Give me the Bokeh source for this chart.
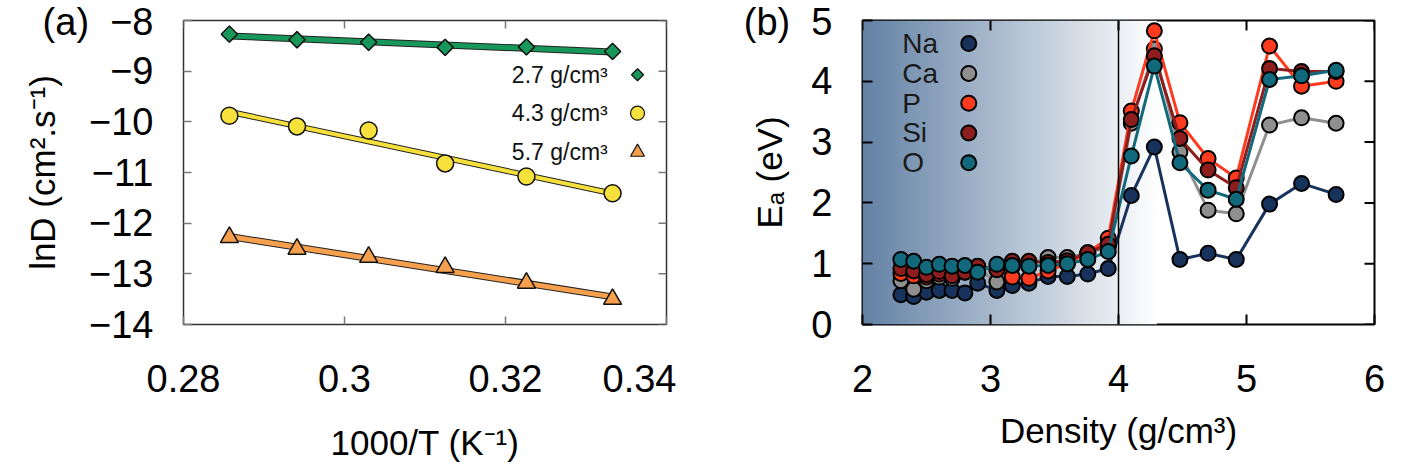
import numpy as np
from bokeh.plotting import figure
from bokeh.layouts import row
from bokeh.models import FixedTicker, Span, Range1d
from bokeh.core.properties import value
from bokeh.embed import file_html
from bokeh.resources import INLINE

FONT = "Liberation Sans"
NB = "\u00a0\u00a0"

# ---------------- Panel (a) data ----------------
inv_T = [0.2857, 0.2941, 0.3030, 0.3125, 0.3226, 0.3333]
lnD_27 = [-8.27, -8.38, -8.43, -8.53, -8.52, -8.61]
lnD_43 = [-9.88, -10.09, -10.17, -10.82, -11.08, -11.41]
lnD_57 = [-12.28, -12.51, -12.67, -12.87, -13.18, -13.50]
a_labels = ["2.7 g/cm³", "4.3 g/cm³", "5.7 g/cm³"]
a_xticks = [0.28, 0.30, 0.32, 0.34]
a_xtick_labels = ["0.28", "0.3", "0.32", "0.34"]
a_yticks = [-14, -13, -12, -11, -10, -9, -8]
a_ytick_labels = ["−14", "−13", "−12", "−11", "−10", "−9", "(a)" + NB + "−8"]

# ---------------- Panel (b) data ----------------
density = [2.3, 2.4, 2.5, 2.6, 2.7, 2.8, 2.9, 3.05, 3.17, 3.3, 3.45, 3.6, 3.76, 3.92,
           4.1, 4.28, 4.48, 4.7, 4.92, 5.18, 5.43, 5.7]
Ea_Na = [0.49, 0.46, 0.53, 0.56, 0.56, 0.52, 0.68, 0.56, 0.64, 0.68, 0.79, 0.79, 0.83, 0.92,
         2.12, 2.92, 1.07, 1.17, 1.07, 1.98, 2.32, 2.14]
Ea_Ca = [0.72, 0.58, 0.72, 0.78, 0.76, 0.86, 0.92, 0.70, 0.95, 1.00, 1.10, 1.10, 1.17, 1.28,
         3.31, 4.53, 2.84, 1.88, 1.82, 3.28, 3.40, 3.31]
Ea_P = [0.84, 0.80, 0.78, 0.83, 0.82, 0.90, 0.95, 0.92, 0.78, 0.76, 0.88, 1.00, 1.18, 1.42,
        3.51, 4.83, 3.32, 2.73, 2.41, 4.58, 3.92, 4.00]
Ea_Si = [0.92, 0.88, 0.82, 0.87, 0.80, 0.86, 0.96, 0.90, 1.04, 1.04, 1.02, 1.05, 1.18, 1.32,
         3.37, 4.42, 3.06, 2.54, 2.25, 4.21, 4.16, 4.16]
Ea_O = [1.07, 1.04, 0.94, 0.99, 0.96, 0.97, 0.86, 0.99, 0.97, 0.96, 0.97, 1.00, 1.07, 1.20,
        2.77, 4.25, 2.66, 2.21, 2.06, 4.03, 4.09, 4.18]
elements = ["Na", "Ca", "P", "Si", "O"]
b_xticks = [2, 3, 4, 5, 6]
b_yticks = [0, 1, 2, 3, 4, 5]
b_ytick_labels = ["0", "1", "2", "3", "4", "(b)" + NB + "5"]

TICK_FS = "38px"
LABEL_FS = "35px"


def style_axes(p, frame_color, tick_color, tick_w, tick_len):
    p.outline_line_color = frame_color
    p.outline_line_width = tick_w
    p.xgrid.visible = False
    p.ygrid.visible = False
    for ax in p.xaxis + p.yaxis:
        ax.axis_line_color = None
        ax.major_tick_in = tick_len
        ax.major_tick_out = 0
        ax.minor_tick_line_color = None
        ax.major_tick_line_color = tick_color
        ax.major_tick_line_width = tick_w
        ax.major_label_text_font = FONT
        ax.major_label_text_font_size = TICK_FS
        ax.major_label_text_color = "black"
        ax.axis_label_text_font = FONT
        ax.axis_label_text_font_size = LABEL_FS
        ax.axis_label_text_font_style = "normal"
        ax.axis_label_text_color = "black"
    for ax in p.yaxis:
        ax.major_label_standoff = 30
    for ax in p.xaxis:
        ax.major_label_standoff = 40


def mirror_ticks(p, xticks, yticks, xmax, ymax, color, w, length):
    # inward tick marks on the top and right frame edges (decoration)
    p.ray(x=xticks, y=[ymax] * len(xticks), length=length, length_units="screen",
          angle=-np.pi / 2, line_color=color, line_width=w)
    p.ray(x=[xmax] * len(yticks), y=yticks, length=length, length_units="screen",
          angle=np.pi, line_color=color, line_width=w)


# ================= Panel (a) =================
pa = figure(frame_width=483, frame_height=304, output_backend="svg", toolbar_location=None,
            x_range=Range1d(0.28, 0.34), y_range=Range1d(-14, -8),
            min_border_left=183, min_border_right=10, min_border_top=20, min_border_bottom=60,
            background_fill_color="white", border_fill_color="white")
pa.xaxis.ticker = FixedTicker(ticks=a_xticks)
pa.xaxis.major_label_overrides = dict(zip(a_xticks, a_xtick_labels))
pa.yaxis.ticker = FixedTicker(ticks=a_yticks)
pa.yaxis.major_label_overrides = dict(zip(a_yticks, a_ytick_labels))
pa.xaxis.axis_label = "1000/T (K⁻¹)"
pa.yaxis.axis_label = "lnD (cm².s⁻¹)"
style_axes(pa, "#333333", "#7a7a7a", 1.5, 8)
pa.xaxis.axis_label_standoff = 28
pa.yaxis.axis_label_standoff = -22
mirror_ticks(pa, a_xticks, a_yticks, 0.34, -8, "#7a7a7a", 1.5, 8)

a_series = [
    (lnD_27, "#17985a", "square", 11.5, np.pi / 4, 8.5),
    (lnD_43, "#f6e03b", "circle", 17, 0, 14),
    (lnD_57, "#f6a04d", "triangle", 18, 0, 14),
]
for vals, col, mk, sz, ang, lsz in a_series:
    coef = np.polyfit(inv_T, vals, 1)
    xe = [inv_T[0], inv_T[-1]]
    ye = list(np.polyval(coef, xe))
    lw = 4 if mk == "circle" else 5
    pa.line(xe, ye, line_color="#222222", line_width=lw + 2)
    pa.line(xe, ye, line_color=col, line_width=lw)
    pa.scatter(inv_T, vals, marker=mk, size=sz, angle=ang, fill_color=col,
               line_color="#111111", line_width=1.5)

# legend (a): text left of marker
leg_a_y = [-9.07, -9.83, -10.60]
for (vals, col, mk, sz, ang, lsz), lab, ly in zip(a_series, a_labels, leg_a_y):
    pa.scatter([0.3364], [ly], marker=mk, size=lsz, angle=ang, fill_color=col,
               line_color="#111111", line_width=1.2)
    pa.text([0.3327], [ly], text=[lab], text_font=value(FONT), text_font_size="23px",
            text_align="right", text_baseline="middle", text_color="#111111")

# ================= Panel (b) =================
pb = figure(frame_width=512, frame_height=304, output_backend="svg", toolbar_location=None,
            x_range=Range1d(2, 6), y_range=Range1d(0, 5),
            min_border_left=186, min_border_right=16, min_border_top=20, min_border_bottom=60,
            background_fill_color="white", border_fill_color="white")
pb.xaxis.ticker = FixedTicker(ticks=b_xticks)
pb.yaxis.ticker = FixedTicker(ticks=b_yticks)
pb.yaxis.major_label_overrides = dict(zip(b_yticks, b_ytick_labels))
pb.xaxis.axis_label = "Density (g/cm³)"
pb.yaxis.axis_label = "Eₐ (eV)"
style_axes(pb, "black", "black", 2, 10)
pb.xaxis.axis_label_standoff = 16
pb.yaxis.axis_label_standoff = -48

# background gradient (decoration)
N = 256
img = np.zeros((1, N), dtype=np.uint32)
view = img.view(dtype=np.uint8).reshape((1, N, 4))
t = np.linspace(0, 1, N)
c0 = np.array([100, 130, 165])
c1 = np.array([255, 255, 255])
for k in range(3):
    view[0, :, k] = (c0[k] + (c1[k] - c0[k]) * t).astype(np.uint8)
view[0, :, 3] = 255
pb.image_rgba(image=[img], x=2, y=0, dw=2.3, dh=5)
pb.add_layout(Span(location=4.0, dimension="height", line_color="black", line_width=1.5))
mirror_ticks(pb, b_xticks, b_yticks, 6, 5, "black", 2, 10)

b_series = [
    (Ea_Na, "#17335c"),
    (Ea_Ca, "#8f8f8f"),
    (Ea_P, "#ff3b1f"),
    (Ea_Si, "#8e1d1d"),
    (Ea_O, "#12697b"),
]
for vals, col in b_series:
    pb.line(density, vals, line_color=col, line_width=3)
    pb.scatter(density, vals, marker="circle", size=15, fill_color=col,
               line_color="black", line_width=2)

leg_b_y = [4.62, 4.13, 3.64, 3.15, 2.66]
for (vals, col), name, ly in zip(b_series, elements, leg_b_y):
    pb.scatter([2.83], [ly], marker="circle", size=15, fill_color=col,
               line_color="black", line_width=2)
    pb.text([2.31], [ly], text=[name], text_font=value(FONT), text_font_size="28px",
            text_align="left", text_baseline="middle", text_color="#1a1a1a")

layout = row(pa, pb)
open("out.html", "w").write(file_html(layout, INLINE))
